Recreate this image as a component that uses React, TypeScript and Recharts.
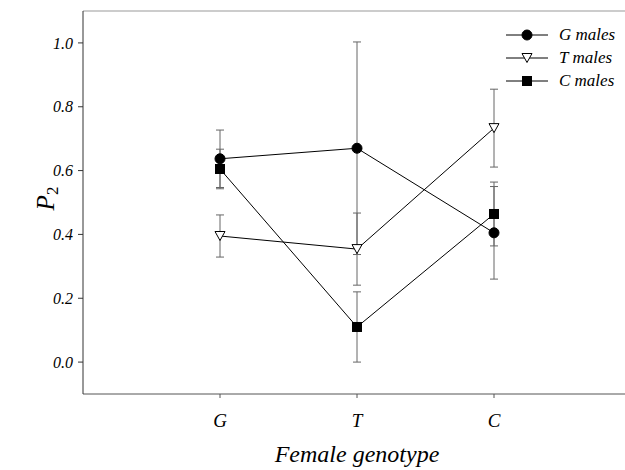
import React from "react";
import { ComposedChart, Line, XAxis, YAxis, ErrorBar, Legend, ReferenceLine, Label } from "recharts";

const categories = ["G", "T", "C"];
const gMales = [0.637, 0.67, 0.405];
const gMalesErr = [0.09, 0.333, 0.145];
const tMales = [0.395, 0.354, 0.733];
const tMalesErr = [0.066, 0.113, 0.122];
const cMales = [0.605, 0.11, 0.464];
const cMalesErr = [0.062, 0.11, 0.1];
const yTicks = [0, 0.2, 0.4, 0.6, 0.8, 1.0];
const seriesNames = ["G males", "T males", "C males"];

const data = categories.map((c, i) => ({
  x: i + 1,
  g: gMales[i],
  gErr: gMalesErr[i],
  t: tMales[i],
  tErr: tMalesErr[i],
  c: cMales[i],
  cErr: cMalesErr[i],
}));

const FONT = "'Liberation Serif', 'Times New Roman', serif";

const circleShape = (cx: number, cy: number, key?: any) => (
  <circle key={key} cx={cx} cy={cy} r={5} fill="#000" stroke="#000" strokeWidth={1} />
);
const triShape = (cx: number, cy: number, key?: any) => (
  <polygon
    key={key}
    points={`${cx - 5},${cy - 4.5} ${cx + 5},${cy - 4.5} ${cx},${cy + 4.5}`}
    fill="#fff"
    stroke="#000"
    strokeWidth={1}
  />
);
const squareShape = (cx: number, cy: number, key?: any) => (
  <rect key={key} x={cx - 4.5} y={cy - 4.5} width={9} height={9} fill="#000" stroke="#000" strokeWidth={1} />
);

const shapes = [circleShape, triShape, squareShape];

const renderLegend = () => (
  <div style={{ fontFamily: FONT, fontStyle: "italic", fontSize: 17 }}>
    {seriesNames.map((n, i) => (
      <div key={n} style={{ display: "flex", alignItems: "center", height: 23 }}>
        <svg width={46} height={20} style={{ display: "block" }}>
          <line x1={2} y1={10} x2={44} y2={10} stroke="#000" strokeWidth={1} />
          {shapes[i](23, 10)}
        </svg>
        <span style={{ marginLeft: 9, whiteSpace: "nowrap" }}>{n}</span>
      </div>
    ))}
  </div>
);

const YTitle = (props: any) => {
  const { viewBox } = props;
  const cx = 45;
  const cy = viewBox.y + viewBox.height / 2 - 4;
  return (
    <text
      x={cx}
      y={cy}
      transform={`rotate(-90, ${cx}, ${cy})`}
      textAnchor="middle"
      dominantBaseline="central"
      fontFamily={FONT}
      fontStyle="italic"
      fontSize={25}
      fill="#000"
    >
      P
      <tspan fontSize={17} dy={7} fontStyle="normal">2</tspan>
    </text>
  );
};

export default function App() {
  return (
    <div style={{ position: "absolute", left: 0, top: 0, width: 625, height: 470, overflow: "hidden", background: "#fff" }}>
      <ComposedChart
        width={640}
        height={470}
        data={data}
        margin={{ top: 11, right: 9, left: 0, bottom: 0 }}
      >
        <XAxis
          dataKey="x"
          type="number"
          domain={[0, 4]}
          ticks={[1, 2, 3]}
          tickFormatter={(v: number) => categories[v - 1]}
          stroke="#555"
          tickSize={4}
          tickMargin={16}
          height={76}
          tick={{ fontFamily: FONT, fontStyle: "italic", fontSize: 19, fill: "#000", fontWeight: "normal" }}
        >
          <Label
            value="Female genotype"
            position="insideBottom"
            offset={8}
            style={{ fontFamily: FONT, fontStyle: "italic", fontSize: 24, fill: "#000" }}
          />
        </XAxis>
        <YAxis
          type="number"
          domain={[-0.1, 1.1]}
          ticks={yTicks}
          tickFormatter={(v: number) => v.toFixed(1)}
          width={83}
          stroke="#333"
          tickSize={5}
          tickMargin={5}
          allowDataOverflow
          tick={{ fontFamily: FONT, fontStyle: "italic", fontSize: 16, fill: "#000", fontWeight: "normal" }}
        >
          <Label content={<YTitle />} />
        </YAxis>
        <ReferenceLine y={1.1} stroke="#999" strokeWidth={1} />
        <Line
          dataKey="g"
          stroke="#000"
          strokeWidth={1}
          isAnimationActive={false}
          dot={(p: any) => circleShape(p.cx, p.cy, `g${p.index}`)}
          legendType="none"
        >
          <ErrorBar dataKey="gErr" width={4} stroke="#666" strokeWidth={1} direction="y" />
        </Line>
        <Line
          dataKey="t"
          stroke="#000"
          strokeWidth={1}
          isAnimationActive={false}
          dot={(p: any) => triShape(p.cx, p.cy, `t${p.index}`)}
          legendType="none"
        >
          <ErrorBar dataKey="tErr" width={4} stroke="#666" strokeWidth={1} direction="y" />
        </Line>
        <Line
          dataKey="c"
          stroke="#000"
          strokeWidth={1}
          isAnimationActive={false}
          dot={(p: any) => squareShape(p.cx, p.cy, `c${p.index}`)}
          legendType="none"
        >
          <ErrorBar dataKey="cErr" width={4} stroke="#666" strokeWidth={1} direction="y" />
        </Line>
        <Legend
          layout="horizontal"
          verticalAlign="middle"
          align="center"
          content={renderLegend}
          wrapperStyle={{ top: 23, left: 504, width: 130 }}
        />
      </ComposedChart>
    </div>
  );
}
